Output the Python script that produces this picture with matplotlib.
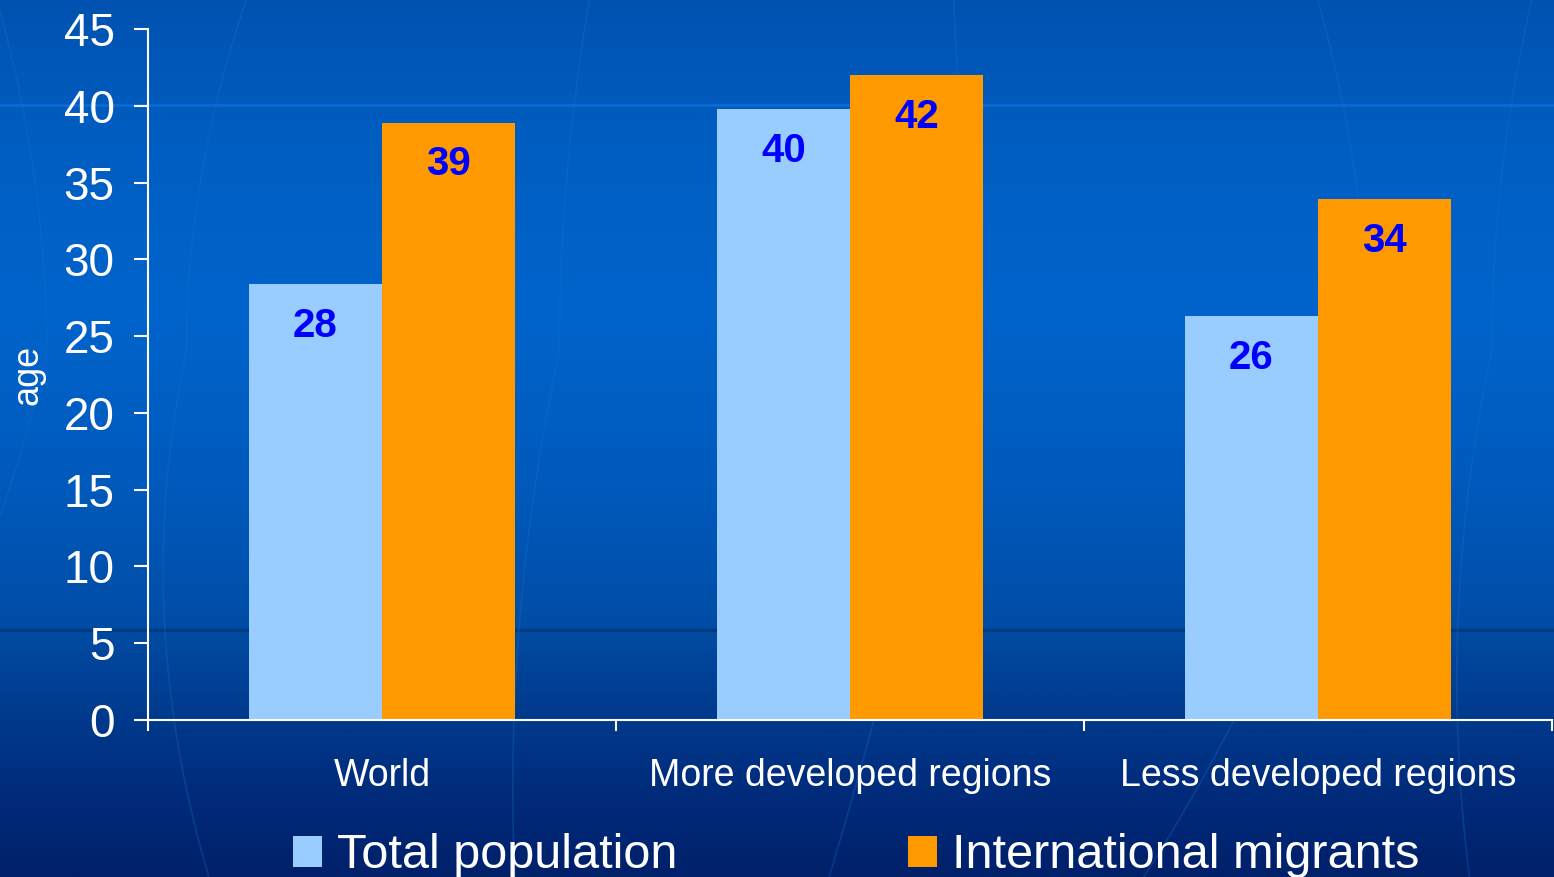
import numpy as np
import matplotlib
matplotlib.use("Agg")
import matplotlib.pyplot as plt
from matplotlib.colors import LinearSegmentedColormap

plt.rcParams['font.family'] = ['Liberation Sans', 'DejaVu Sans']

categories = ["World", "More developed regions", "Less developed regions"]
total_pop = [28.4, 39.8, 26.3]
migrants = [38.9, 42.0, 33.9]
total_lbl = ["28", "40", "26"]
migr_lbl = ["39", "42", "34"]

fig = plt.figure(figsize=(15.54, 8.77), dpi=100)

# background gradient
bg = fig.add_axes([0, 0, 1, 1], zorder=-10)
cmap = LinearSegmentedColormap.from_list("bg", [
    (0.0, "#00206a"), (0.1, "#002c7c"), (0.2, "#003d90"), (0.3, "#004ea8"),
    (0.45, "#005abc"), (0.65, "#0064cc"), (0.85, "#005dc0"), (1.0, "#0052b0")])
grad = np.linspace(0, 1, 512).reshape(-1, 1)
bg.imshow(grad, aspect="auto", cmap=cmap, origin="lower", extent=[0, 1, 0, 1])
bg.axhline(1 - 105 / 877, color="#0a6ad6", lw=2)
bg.axhline(1 - 630 / 877, color="#003a80", lw=2.5)
# faint globe meridians
yy = np.linspace(0, 1, 200)
for x0, k in [(0.03, -0.05), (0.12, 0.06), (0.36, 0.03), (0.62, -0.01), (0.88, -0.05), (0.96, 0.04)]:
    bg.plot(x0 + k * (yy - 0.6) ** 2 * 4 - 0.12 * (0.6 - yy) * (yy < 0.6), yy,
            color="#1a6fd0", lw=1.2, alpha=0.3)
bg.set_xlim(0, 1)
bg.set_ylim(0, 1)
bg.axis("off")

ax = fig.add_axes([148 / 1554, 1 - 720 / 877, 1404 / 1554, 691 / 877])
ax.patch.set_alpha(0)

x = np.arange(len(categories))
w = 0.285
b1 = ax.bar(x - w / 2, total_pop, w, color="#99ccff", label="Total population")
b2 = ax.bar(x + w / 2, migrants, w, color="#ff9900", label="International migrants")

for xi, v, t in zip(x - w / 2, total_pop, total_lbl):
    ax.annotate(t, xy=(xi, v), xytext=(0, -30), textcoords="offset points",
                ha="center", va="center", fontsize=29, fontweight="bold", color="#0000ff")
for xi, v, t in zip(x + w / 2, migrants, migr_lbl):
    ax.annotate(t, xy=(xi, v), xytext=(0, -30), textcoords="offset points",
                ha="center", va="center", fontsize=29, fontweight="bold", color="#0000ff")

ax.set_xlim(-0.5, 2.5)
ax.set_ylim(0, 45)
ax.set_yticks(range(0, 46, 5))
ax.set_xticks(x)
ax.set_xticklabels(categories)
ax.set_xticks([-0.5, 0.5, 1.5, 2.5], minor=True)

for s in ["top", "right"]:
    ax.spines[s].set_visible(False)
for s in ["left", "bottom"]:
    ax.spines[s].set_color("white")
    ax.spines[s].set_linewidth(1.5)

ax.tick_params(axis="y", colors="white", labelsize=33, length=10, width=1.5, pad=14)
ax.tick_params(axis="x", which="major", colors="white", labelsize=27, length=0, pad=27)
ax.tick_params(axis="x", which="minor", colors="white", length=8, width=1.5)

ax.set_ylabel("age", color="white", fontsize=26)
ax.yaxis.label.set_verticalalignment("center")
ax.yaxis.set_label_coords(-0.0855, 0.5)

fig.legend(handles=[b1, b2], loc="center", bbox_to_anchor=(856 / 1554, 1 - 856 / 877),
           ncol=2, frameon=False, fontsize=35, labelcolor="white",
           handlelength=0.6, handleheight=0.6, handletextpad=0.3, columnspacing=4.75)

fig.savefig("out.png", dpi=100)
